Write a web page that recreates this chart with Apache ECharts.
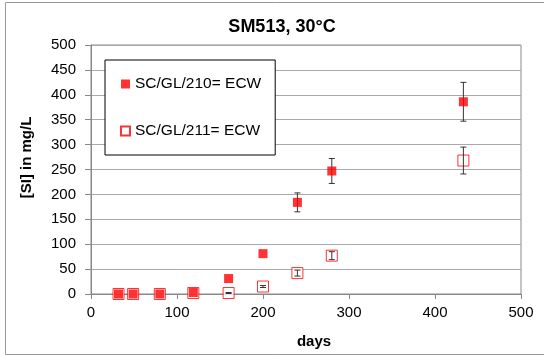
<!DOCTYPE html>
<html><head><meta charset="utf-8">
<script src="https://cdn.jsdelivr.net/npm/echarts@6/dist/echarts.min.js"></script>
<style>html,body{margin:0;padding:0;background:#fff}#c{width:544px;height:356px}</style>
</head><body><div id="c"></div>
<script>
const days = [32, 49, 80, 119, 160, 200, 240, 280, 433];
const s210 = [0, 0, 0, 3, 31, 81, 184, 247, 386];
const s210err = [0, 0, 0, 0, 0, 0, 19, 25, 39];
const s211 = [0, 0, 0, 2, 2, 15, 42, 77, 268];
const s211err = [0, 0, 0, 0, 1, 2, 6, 8, 27];
const name210 = 'SC/GL/210= ECW';
const name211 = 'SC/GL/211= ECW';
const xTicks = [0, 100, 200, 300, 400, 500];
const yTicks = [0, 50, 100, 150, 200, 250, 300, 350, 400, 450, 500];

const font = '"Liberation Sans", Arial, sans-serif';
const errData = [];
days.forEach((d, i) => {
  if (s210err[i] > 0) errData.push([d, s210[i] - s210err[i], s210[i] + s210err[i]]);
  if (s211err[i] > 0) errData.push([d, s211[i] - s211err[i], s211[i] + s211err[i]]);
});

const chart = echarts.init(document.getElementById('c'), null, {renderer: 'canvas'});
chart.setOption({
  animation: false,
  textStyle: {fontFamily: font},
  title: {text: 'SM513, 30°C', left: 277, top: 13, textAlign: 'center',
    textStyle: {fontFamily: font, fontSize: 18, fontWeight: 'bold', color: '#000'}},
  graphic: [{type: 'rect', shape: {x: 5.5, y: 2.5, width: 560, height: 352},
    style: {fill: 'none', stroke: '#999', lineWidth: 1}, silent: true}],
  grid: {left: 91, right: 23, top: 45, bottom: 62, show: true, borderColor: '#888', borderWidth: 1},
  legend: {
    orient: 'vertical', left: 105, top: 60,
    padding: [16, 14, 16, 15], itemGap: 31,
    itemWidth: 9, itemHeight: 9,
    borderColor: '#000', borderWidth: 1, backgroundColor: '#fff',
    textStyle: {fontFamily: font, fontSize: 15.5, color: '#000'},
    data: [{name: name210, icon: 'rect'}, {name: name211, icon: 'rect'}]
  },
  xAxis: {
    type: 'value', min: xTicks[0], max: xTicks[xTicks.length - 1], interval: 100,
    name: 'days', nameLocation: 'middle', nameGap: 40,
    nameTextStyle: {fontFamily: font, fontSize: 15, fontWeight: 'bold', color: '#000', padding: [0, 0, 0, 16]},
    axisLine: {lineStyle: {color: '#888'}},
    axisTick: {show: true, length: 5, lineStyle: {color: '#888'}},
    axisLabel: {fontFamily: font, fontSize: 15, color: '#000', margin: 11},
    splitLine: {show: false}
  },
  yAxis: {
    type: 'value', min: yTicks[0], max: yTicks[yTicks.length - 1], interval: 50,
    name: '[SI] in mg/L', nameLocation: 'middle', nameGap: 57, nameRotate: 90,
    nameTextStyle: {fontFamily: font, fontSize: 15, fontWeight: 'bold', color: '#000', padding: [0, 0, 0, 24]},
    axisLine: {show: true, lineStyle: {color: '#888'}},
    axisTick: {show: true, length: 6, lineStyle: {color: '#888'}},
    axisLabel: {fontFamily: font, fontSize: 15, color: '#000', margin: 15},
    splitLine: {show: true, lineStyle: {color: '#aaa', width: 1}}
  },
  series: [
    {
      name: name211, type: 'scatter', symbol: 'rect', symbolSize: 11, z: 2,
      itemStyle: {color: '#fff', borderColor: '#f00', borderWidth: 1},
      data: days.map((d, i) => [d, s211[i]])
    },
    {
      name: 'err', type: 'custom', z: 3,
      renderItem: function (params, api) {
        const lo = api.coord([api.value(0), api.value(1)]);
        const hi = api.coord([api.value(0), api.value(2)]);
        const w = 3;
        return {type: 'group', children: [
          {type: 'line', shape: {x1: lo[0], y1: lo[1], x2: hi[0], y2: hi[1]}, style: {stroke: '#333', lineWidth: 1}},
          {type: 'line', shape: {x1: lo[0] - w, y1: lo[1], x2: lo[0] + w, y2: lo[1]}, style: {stroke: '#333', lineWidth: 1}},
          {type: 'line', shape: {x1: hi[0] - w, y1: hi[1], x2: hi[0] + w, y2: hi[1]}, style: {stroke: '#333', lineWidth: 1}}
        ]};
      },
      encode: {x: 0, y: [1, 2]},
      data: errData
    },
    {
      name: name210, type: 'scatter', symbol: 'rect', symbolSize: 9, z: 4,
      itemStyle: {color: '#f00'},
      data: days.map((d, i) => [d, s210[i]])
    }
  ]
});
</script></body></html>
